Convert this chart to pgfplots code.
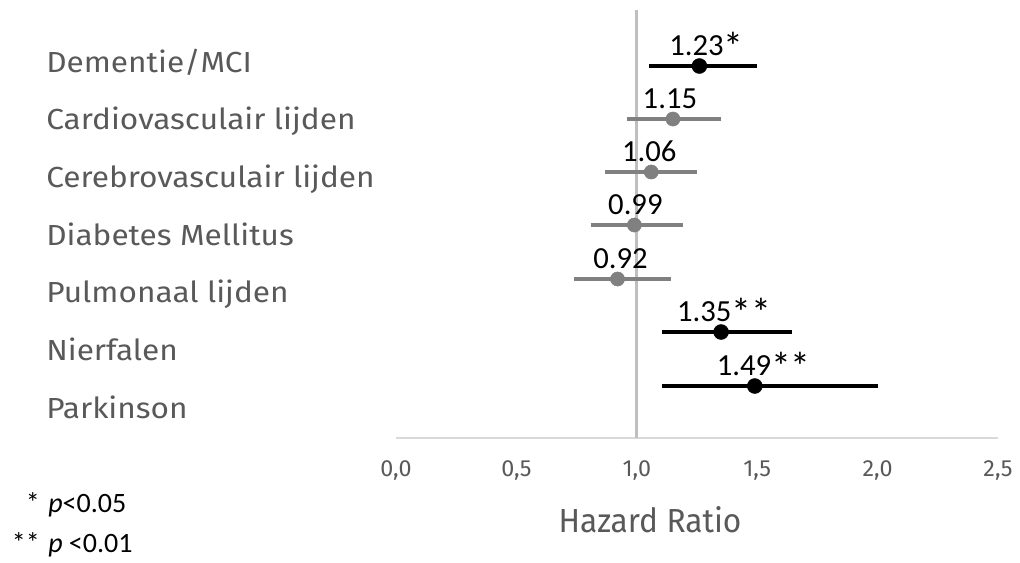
\documentclass[border=0pt]{standalone}
\usepackage{pgfplots}
\pgfplotsset{compat=1.18}
\usepackage{pgfplotstable}
\usepackage{graphicx}
\usepackage{fontspec}
\setmainfont{Fira Sans}
\newfontfamily\catfont[FakeStretch=1.09]{Fira Sans}
\newfontfamily\hrfont[FakeStretch=0.95]{Fira Sans}
\newfontfamily\carlito{Carlito}
\newcommand\st{\raisebox{-0.17em}{\scalebox{1.3}{*}}}
\definecolor{txtgray}{HTML}{595959}
\definecolor{sergray}{HTML}{808080}
\definecolor{vline}{HTML}{BFBFBF}
\definecolor{axline}{HTML}{D9D9D9}

% x = hazard ratio, y = vertical position (px from top), em/ep = CI minus/plus
\pgfplotstableread{
x     y    em     ep     label
1.26  66   0.21   0.24   \kern10.5pt1.23\st
1.35  332  0.245  0.295  \kern4.5pt1.35\st\st
1.49  386  0.385  0.51   \kern13.5pt1.49\st\st
}\blackdata
\pgfplotstableread{
x     y    em     ep     label
1.15  119  0.19   0.20   1.15\kern4.5pt
1.06  172  0.19   0.19   1.06\kern3pt
0.99  225  0.18   0.20   \kern1.5pt0.99
0.92  279  0.18   0.22   \kern4.5pt0.92
}\graydata

\begin{document}
\begin{tikzpicture}
\useasboundingbox (-297pt,-93pt) rectangle (468pt,328.5pt);
\begin{axis}[
  scale only axis,
  width=451.5pt, height=328.5pt,
  xmin=0, xmax=2.5, ymin=0, ymax=438,
  y dir=reverse,
  clip=false,
  axis x line*=bottom,
  axis y line*=left,
  y axis line style={draw=none},
  x axis line style={draw=axline, line width=1.5pt, -},
  major tick length=0pt,
  xtick={0,0.5,1,1.5,2,2.5},
  xticklabels={{0,0},{0,5},{1,0},{1,5},{2,0},{2,5}},
  xticklabel style={anchor=base, inner sep=0pt, yshift=-28.5pt, text=txtgray, font=\fontsize{17.5}{21}\selectfont},
  ytick={72,129.7,187.3,245,302.7,360.3,418},
  yticklabels={Dementie/MCI, Cardiovasculair lijden, Cerebrovasculair lijden, Diabetes Mellitus, Pulmonaal lijden, Nierfalen, Parkinson},
  yticklabel style={anchor=base west, inner sep=0pt, xshift=-262.5pt, text=txtgray, font=\catfont\fontsize{21.75}{26}\selectfont},
  xlabel={Hazard Ratio},
  xlabel style={at={(axis description cs:0,0)}, anchor=base, inner sep=0pt, xshift=190.5pt, yshift=-70.5pt, text=txtgray, font=\hrfont\fontsize{25}{30}\selectfont},
]
\addplot[vline, line width=2.2pt, no marks] coordinates {(1,10) (1,438)};
% confidence intervals
\addplot[draw=none, mark=none,
  error bars/.cd, x dir=both, x explicit, error mark=none,
  error bar style={line width=3pt, black, solid}]
  table[x=x, y=y, x error minus=em, x error plus=ep] {\blackdata};
\addplot[draw=none, mark=none,
  error bars/.cd, x dir=both, x explicit, error mark=none,
  error bar style={line width=2.6pt, sergray, solid}]
  table[x=x, y=y, x error minus=em, x error plus=ep] {\graydata};
% points with labels
\addplot[only marks, mark=*, mark size=5.6pt, color=black,
  point meta=explicit symbolic,
  nodes near coords,
  nodes near coords style={anchor=base, inner sep=0pt, yshift=8.25pt, font=\carlito\fontsize{23}{27}\selectfont, text=black}]
  table[x=x, y=y, meta=label] {\blackdata};
\addplot[only marks, mark=*, mark size=5.3pt, color=sergray,
  point meta=explicit symbolic,
  nodes near coords,
  nodes near coords style={anchor=base, inner sep=0pt, yshift=8.25pt, font=\carlito\fontsize{23}{27}\selectfont, text=black}]
  table[x=x, y=y, meta=label] {\graydata};
\end{axis}
% footnotes
\node[anchor=base east, inner sep=0pt, font=\carlito\fontsize{21}{25}\selectfont] at ({(40-396)*0.75pt},{(438-512)*0.75pt}) {*};
\node[anchor=base west, inner sep=0pt, font=\carlito\fontsize{21}{25}\selectfont] at ({(48-396)*0.75pt},{(438-512)*0.75pt}) {\textit{p}<0.05};
\node[anchor=base east, inner sep=0pt, font=\carlito\fontsize{21}{25}\selectfont] at ({(40-396)*0.75pt},{(438-552)*0.75pt}) {**};
\node[anchor=base west, inner sep=0pt, font=\carlito\fontsize{21}{25}\selectfont] at ({(48-396)*0.75pt},{(438-552)*0.75pt}) {\textit{p} <0.01};
\end{tikzpicture}
\end{document}
